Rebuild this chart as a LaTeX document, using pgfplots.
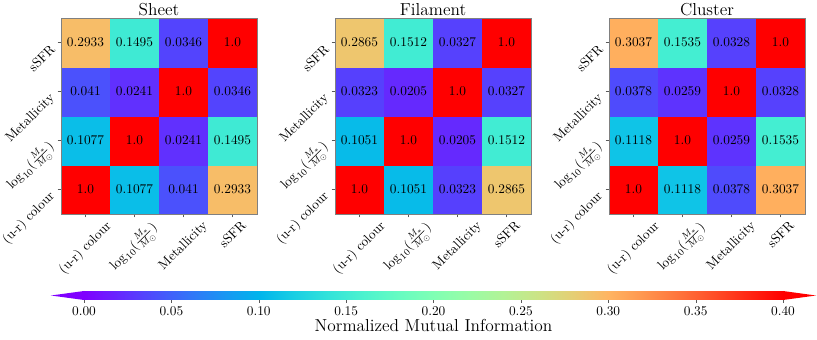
\documentclass[border=0pt]{standalone}
\usepackage{pgfplots}
\usepackage{pgfplotstable}
\pgfplotsset{compat=1.18}

% normalized mutual information, column x, row y
\pgfplotstableread{
x y v
0 0 1.0
1 0 0.1077
2 0 0.041
3 0 0.2933
0 1 0.1077
1 1 1.0
2 1 0.0241
3 1 0.1495
0 2 0.041
1 2 0.0241
2 2 1.0
3 2 0.0346
0 3 0.2933
1 3 0.1495
2 3 0.0346
3 3 1.0
}\sheet

\pgfplotstableread{
x y v
0 0 1.0
1 0 0.1051
2 0 0.0323
3 0 0.2865
0 1 0.1051
1 1 1.0
2 1 0.0205
3 1 0.1512
0 2 0.0323
1 2 0.0205
2 2 1.0
3 2 0.0327
0 3 0.2865
1 3 0.1512
2 3 0.0327
3 3 1.0
}\filament

\pgfplotstableread{
x y v
0 0 1.0
1 0 0.1118
2 0 0.0378
3 0 0.3037
0 1 0.1118
1 1 1.0
2 1 0.0259
3 1 0.1535
0 2 0.0378
1 2 0.0259
2 2 1.0
3 2 0.0328
0 3 0.3037
1 3 0.1535
2 3 0.0328
3 3 1.0
}\cluster

\pgfplotstableread{
x y m
0 0 0
0.4 0 0.4
0 1 0
0.4 1 0.4
}\cbar

\definecolor{cbmin}{rgb}{0.5,0,1}
\definecolor{cbmax}{rgb}{1,0,0}

% rotated x label; its box is the full box of the rotated text
\newcommand{\rlx}[1]{\tikz[baseline=(n.center)]{\node[rotate=45, inner sep=0pt] (n) {#1};
  \path (n.north east) (n.north west) (n.south east) (n.south west);}}

\pgfplotsset{
  colormap={mplrainbow}{
    rgb=(0.5,0,1) rgb=(0.4,0.156,0.997) rgb=(0.3,0.309,0.988) rgb=(0.2,0.454,0.972)
    rgb=(0.1,0.588,0.951) rgb=(0,0.707,0.924) rgb=(0.1,0.809,0.891) rgb=(0.2,0.891,0.853)
    rgb=(0.3,0.951,0.809) rgb=(0.4,0.988,0.760) rgb=(0.5,1,0.707) rgb=(0.6,0.988,0.649)
    rgb=(0.7,0.951,0.588) rgb=(0.8,0.891,0.522) rgb=(0.9,0.809,0.454) rgb=(1,0.707,0.383)
    rgb=(1,0.588,0.309) rgb=(1,0.454,0.233) rgb=(1,0.309,0.156) rgb=(1,0.156,0.078)
    rgb=(1,0,0)},
  hm/.style={
    scale only axis, width=147pt, height=147pt,
    xmin=-0.5, xmax=3.5, ymin=-0.5, ymax=3.5,
    enlargelimits=false, axis on top,
    colormap name=mplrainbow, point meta min=0, point meta max=0.4,
    xtick={0,1,2,3}, ytick={0,1,2,3},
    tick pos=left, tick align=outside, major tick length=2.6pt,
    tick style={gray!70!black, line width=0.5pt},
    axis line style={gray, line width=0.6pt},
    ticklabel style={font=\fontsize{10}{12}\selectfont},
    xticklabels={\rlx{(u-r) colour}, \rlx{$\log_{10}(\frac{M_*}{M_\odot})$}, \rlx{Metallicity}, \rlx{sSFR}},
    yticklabels={(u-r) colour, $\log_{10}(\frac{M_*}{M_\odot})$, Metallicity, sSFR},
    xticklabel style={anchor=north, inner sep=1.2pt},
    yticklabel style={rotate=45, anchor=east, inner sep=5pt},
    title style={font=\fontsize{13}{15}\selectfont, yshift=-6pt, inner sep=1.5pt},
  },
  cell/.style={matrix plot*, mesh/cols=4, point meta=explicit, draw=none},
  celltext/.style={draw=none, mark=none, point meta=explicit symbolic,
    nodes near coords, nodes near coords align=center,
    every node near coord/.append style={anchor=center, font=\fontsize{10}{12}\selectfont, text=black}},
}

\begin{document}
\begin{tikzpicture}
\begin{axis}[hm, at={(45.75pt,93.75pt)}, anchor=south west, title={Sheet}]
\addplot[cell] table[x=x, y=y, meta=v] {\sheet};
\addplot[celltext] table[x=x, y=y, meta=v] {\sheet};
\end{axis}

\begin{axis}[hm, at={(251.25pt,93.75pt)}, anchor=south west, title={Filament}]
\addplot[cell] table[x=x, y=y, meta=v] {\filament};
\addplot[celltext] table[x=x, y=y, meta=v] {\filament};
\end{axis}

\begin{axis}[hm, at={(456.75pt,93.75pt)}, anchor=south west, title={Cluster}]
\addplot[cell] table[x=x, y=y, meta=v] {\cluster};
\addplot[celltext] table[x=x, y=y, meta=v] {\cluster};
\end{axis}

% colorbar
\begin{axis}[at={(63pt,29.25pt)}, anchor=south west, scale only axis,
  width=524.25pt, height=6.75pt, xmin=0, xmax=0.4, ymin=0, ymax=1,
  enlargelimits=false, clip=false,
  colormap name=mplrainbow, point meta min=0, point meta max=0.4,
  ytick=\empty, xtick={0,0.05,...,0.40}, tick pos=left, tick align=outside,
  major tick length=2pt, tick style={gray!70!black},
  axis line style={draw=none},
  xticklabel style={/pgf/number format/fixed, /pgf/number format/fixed zerofill,
    /pgf/number format/precision=2, font=\fontsize{10}{12}\selectfont},
  xlabel={Normalized Mutual Information},
  xlabel style={font=\fontsize{13}{15}\selectfont, yshift=4pt}]
\addplot[surf, shader=interp, mesh/cols=2, point meta=explicit] table[x=x, y=y, meta=m] {\cbar};
\fill[cbmin] (axis cs:0,0) -- (axis cs:-0.0189,0.5) -- (axis cs:0,1) -- cycle;
\fill[cbmax] (axis cs:0.4,0) -- (axis cs:0.4189,0.5) -- (axis cs:0.4,1) -- cycle;
\end{axis}

\pgfresetboundingbox
\useasboundingbox (0,0) rectangle (612.75pt,254.25pt);
\end{tikzpicture}
\end{document}
